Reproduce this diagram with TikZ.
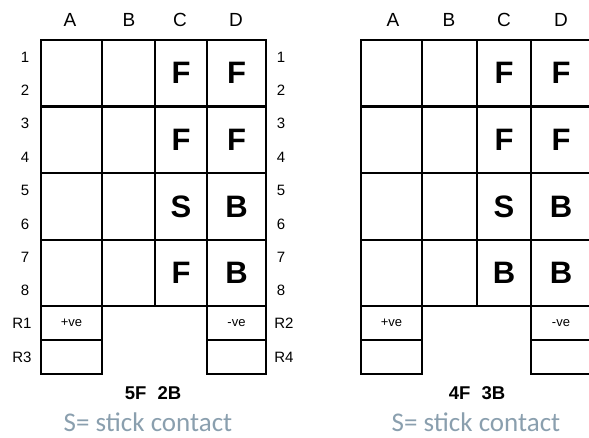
\documentclass[tikz,border=0pt]{standalone}
\usepackage{fontspec}
\setmainfont{Liberation Sans}
\newfontfamily\capfont{Carlito}
\definecolor{capgrey}{HTML}{8A9FAE}
\begin{document}
\begin{tikzpicture}[x=1pt,y=-1pt,
  cell/.style 2 args={draw,line width=2.4pt,rectangle,inner sep=0pt,
    minimum width=#1,minimum height=#2,
    font=\fontsize{31}{31}\selectfont\bfseries},
  colhead/.style={inner sep=0pt,font=\fontsize{19}{19}\selectfont},
  rowlab/.style={inner sep=0pt,font=\fontsize{15}{15}\selectfont},
  small/.style={font=\fontsize{13}{13}\selectfont},
  total/.style={inner sep=0pt,font=\fontsize{18.5}{18.5}\selectfont\bfseries},
  caption/.style={inner sep=0pt,text=capgrey,font=\capfont\fontsize{27}{27}\selectfont}]
\useasboundingbox (0,0) rectangle (589,437);

% ---------- left grid ----------
\foreach \c/\x/\w in {A/71.5/61, B/128.5/53, C/181/52, D/236.5/59}
  \foreach \r/\y/\h in {1/73.25/66.5, 2/139.75/66.5, 3/206.5/67, 4/273/66}
    \node[cell={\w pt}{\h pt}] (L\c\r) at (\x,\y) {};
\node[cell={52pt}{66.5pt}] (LC1x) at (LC1) {F};
\node[cell={59pt}{66.5pt}] (LD1x) at (LD1) {F};
\node[cell={52pt}{66.5pt}] (LC2x) at (LC2) {F};
\node[cell={59pt}{66.5pt}] (LD2x) at (LD2) {F};
\node[cell={52pt}{67pt}] (LC3x) at (LC3) {S};
\node[cell={59pt}{67pt}] (LD3x) at (LD3) {B};
\node[cell={52pt}{66pt}] (LC4x) at (LC4) {F};
\node[cell={59pt}{66pt}] (LD4x) at (LD4) {B};
\node[cell={61pt}{34pt},small] (LR1) at (71.5,323) {+ve};
\node[cell={61pt}{34pt}] (LR3) at (71.5,357) {};
\node[cell={59pt}{34pt},small] (LR2) at (236.5,323) {-ve};
\node[cell={59pt}{34pt}] (LR4) at (236.5,357) {};

\node[colhead] (LhA) at (70,20) {A};
\node[colhead] (LhB) at (129,20) {B};
\node[colhead] (LhC) at (180,20) {C};
\node[colhead] (LhD) at (236,20) {D};

\foreach \n/\y in {1/57,2/90,3/123,4/157,5/190,6/224,7/257,8/290} {
  \node[rowlab] (Ll\n) at (25,\y) {\n};
  \node[rowlab] (Lr\n) at (281,\y) {\n};
}
\node[rowlab] (LlR1) at (22,323) {R1};
\node[rowlab] (LlR3) at (22,357) {R3};
\node[rowlab] (LrR2) at (284,323) {R2};
\node[rowlab] (LrR4) at (284,357) {R4};

\node[total] (Ltot) at (153,393) {5F\hspace{0.6em}2B};
\node[caption] (Lcap) at (148,422) {S= stick contact};

% ---------- right grid ----------
\foreach \c/\x/\w in {A/391.5/61, B/449.5/55, C/504/54, D/561/60}
  \foreach \r/\y/\h in {1/73.25/66.5, 2/139.75/66.5, 3/206.5/67, 4/273/66}
    \node[cell={\w pt}{\h pt}] (R\c\r) at (\x,\y) {};
\node[cell={54pt}{66.5pt}] (RC1x) at (RC1) {F};
\node[cell={60pt}{66.5pt}] (RD1x) at (RD1) {F};
\node[cell={54pt}{66.5pt}] (RC2x) at (RC2) {F};
\node[cell={60pt}{66.5pt}] (RD2x) at (RD2) {F};
\node[cell={54pt}{67pt}] (RC3x) at (RC3) {S};
\node[cell={60pt}{67pt}] (RD3x) at (RD3) {B};
\node[cell={54pt}{66pt}] (RC4x) at (RC4) {B};
\node[cell={60pt}{66pt}] (RD4x) at (RD4) {B};
\node[cell={61pt}{34pt},small] (RR1) at (391.5,323) {+ve};
\node[cell={61pt}{34pt}] (RR3) at (391.5,357) {};
\node[cell={60pt}{34pt},small] (RR2) at (561,323) {-ve};
\node[cell={60pt}{34pt}] (RR4) at (561,357) {};

\node[colhead] (RhA) at (393,20) {A};
\node[colhead] (RhB) at (449,20) {B};
\node[colhead] (RhC) at (504,20) {C};
\node[colhead] (RhD) at (561,20) {D};

\node[total] (Rtot) at (477,393) {4F\hspace{0.6em}3B};
\node[caption] (Rcap) at (476,422) {S= stick contact};
\end{tikzpicture}
\end{document}
